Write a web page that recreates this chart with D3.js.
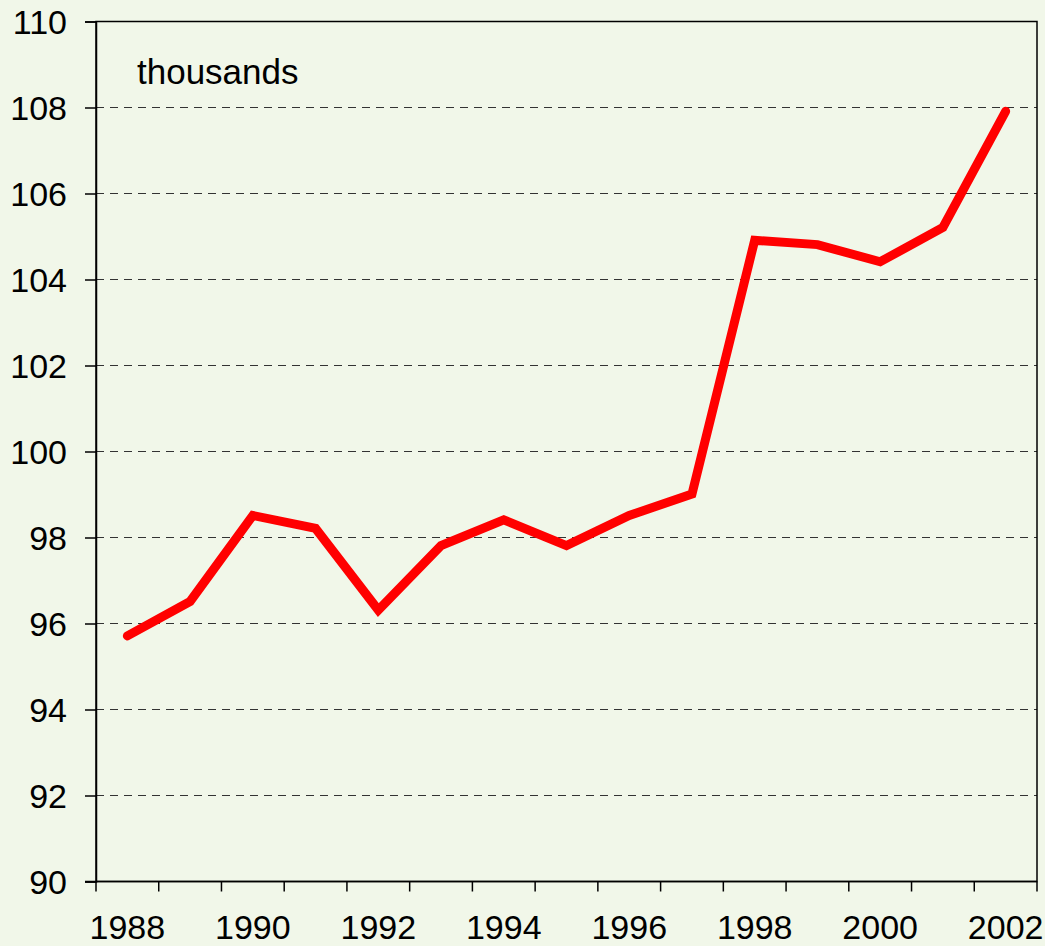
<!DOCTYPE html>
<meta charset="utf-8">
<style>
body { margin: 0; background: #f1f7e9; }
svg { display: block; font-family: "Liberation Sans", Arial, sans-serif; }
.grid line { stroke: #333; stroke-width: 1; stroke-dasharray: 8,6; }
.axis text { font-family: "Liberation Sans", Arial, sans-serif; font-size: 34px; fill: #000; }
</style>
<svg width="1045" height="946"></svg>
<script src="https://cdn.jsdelivr.net/npm/d3@7"></script>
<script>

var years = [1988, 1989, 1990, 1991, 1992, 1993, 1994, 1995, 1996, 1997, 1998, 1999, 2000, 2001, 2002];
var values = [95.7, 96.5, 98.5, 98.2, 96.3, 97.8, 98.4, 97.8, 98.5, 99.0, 104.9, 104.8, 104.4, 105.2, 107.9];
var yTicks = [90, 92, 94, 96, 98, 100, 102, 104, 106, 108, 110];
var xLabels = [1988, 1990, 1992, 1994, 1996, 1998, 2000, 2002];
var unitLabel = "thousands";

var svg = d3.select("svg"),
    plotLeft = 96, plotRight = 1037, plotTop = 21, plotBottom = 881;

svg.append("rect")
    .attr("width", 1045).attr("height", 946)
    .attr("fill", "#f1f7e9");

var x = d3.scaleBand().domain(years).range([plotLeft, plotRight]).padding(0);
var y = d3.scaleLinear().domain([90, 110]).range([plotBottom, plotTop]);

// dashed gridlines
svg.append("g")
    .attr("class", "grid")
    .selectAll("line")
    .data(yTicks.filter(function(d) { return d > 90 && d < 110; }))
    .enter().append("line")
    .attr("x1", plotLeft).attr("x2", plotRight)
    .attr("y1", function(d) { return y(d) + 0.5; })
    .attr("y2", function(d) { return y(d) + 0.5; });

// frame
svg.append("rect")
    .attr("x", plotLeft).attr("y", plotTop + 0.5)
    .attr("width", plotRight - plotLeft).attr("height", plotBottom - plotTop)
    .attr("fill", "none")
    .attr("stroke", "#000")
    .attr("stroke-width", 1.5);

// y axis
var yAxis = svg.append("g")
    .attr("class", "axis")
    .attr("transform", "translate(" + plotLeft + ",0.5)")
    .call(d3.axisLeft(y).tickValues(yTicks).tickSize(11).tickPadding(18).tickFormat(d3.format("d")));
yAxis.select(".domain").attr("stroke-width", 1.5);
yAxis.selectAll(".tick line").attr("stroke-width", 1.5);
yAxis.selectAll("text").attr("dy", "0.36em");

// x axis: ticks at band edges, labels at band centers
var xg = svg.append("g")
    .attr("class", "axis")
    .attr("transform", "translate(0," + (plotBottom + 0.5) + ")");
xg.append("line")
    .attr("x1", plotLeft - 11).attr("x2", plotRight)
    .attr("stroke", "#000").attr("stroke-width", 1.5);
xg.selectAll(".xt")
    .data(years.concat([null]))
    .enter().append("line")
    .attr("class", "xt")
    .attr("x1", function(d, i) { return plotLeft + i * x.bandwidth(); })
    .attr("x2", function(d, i) { return plotLeft + i * x.bandwidth(); })
    .attr("y1", 0).attr("y2", 10)
    .attr("stroke", "#000").attr("stroke-width", 1.5);
xg.selectAll("text")
    .data(xLabels)
    .enter().append("text")
    .attr("x", function(d) { return x(d) + x.bandwidth() / 2; })
    .attr("y", 57)
    .attr("text-anchor", "middle")
    .text(function(d) { return d; });

// unit label
svg.append("text")
    .attr("x", 137).attr("y", 84)
    .style("font-size", "35px")
    .text(unitLabel);

// data line
var line = d3.line()
    .x(function(d, i) { return x(years[i]) + x.bandwidth() / 2; })
    .y(function(d) { return y(d); });

svg.append("path")
    .datum(values)
    .attr("d", line)
    .attr("fill", "none")
    .attr("stroke", "#ff0000")
    .attr("stroke-width", 9)
    .attr("stroke-linejoin", "miter")
    .attr("stroke-linecap", "round");

</script>
